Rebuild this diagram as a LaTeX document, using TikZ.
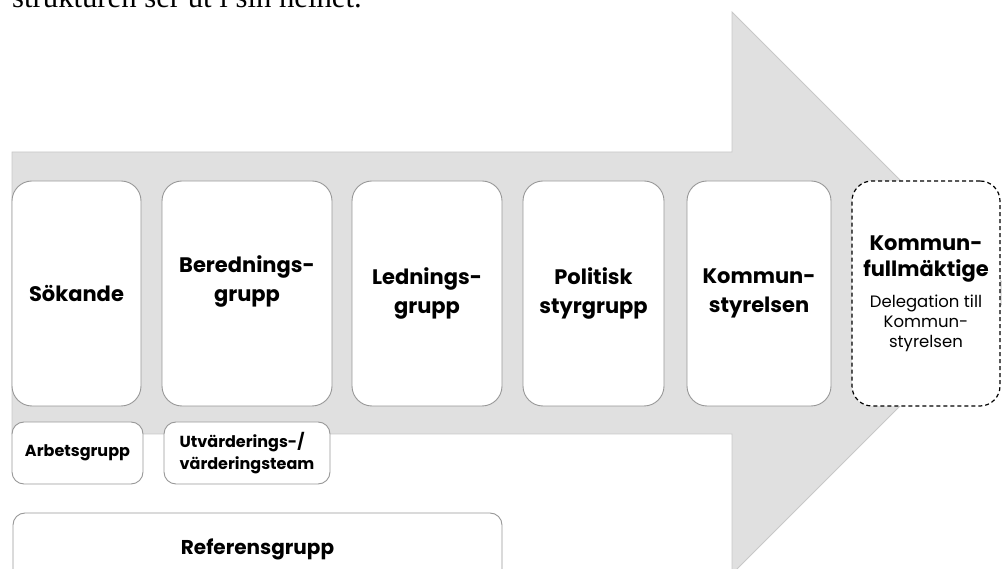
\documentclass[tikz,border=0pt]{standalone}
\usepackage{fontspec}
\setmainfont{Poppins}
\newfontfamily\bodyserif{Liberation Serif}
\usetikzlibrary{positioning}
\definecolor{flowfill}{HTML}{E0E0E0}
\definecolor{flowline}{HTML}{C8C8C8}
\definecolor{boxgray}{HTML}{989898}
\newcommand{\smalltxt}{\fontsize{16.5}{20}\selectfont\mdseries}
\tikzset{
    flow/.style = {draw=flowline, fill=flowfill, line width=0.8pt},
    stage/.style = {draw=boxgray, fill=white, rectangle, rounded corners=20pt, line width=0.9pt, outer sep=0pt,
        minimum height=225pt, align=center, font=\fontsize{21}{29}\selectfont\bfseries},
    final/.style = {stage, draw=black, line width=1.2pt, dash pattern=on 4pt off 3pt},
    sidebox/.style = {draw=boxgray, fill=white, rectangle, rounded corners=12pt, line width=0.9pt, outer sep=0pt,
        minimum height=62pt, font=\fontsize{16}{22}\selectfont\bfseries},
}

\begin{document}
\begin{tikzpicture}[x=1pt, y=1pt]
\useasboundingbox (0,0) rectangle (1002,568);
\clip (0,0) rectangle (1002,568);

% Text cut off at the top
\node[anchor=base west, inner sep=0pt, font=\bodyserif\fontsize{30.7}{36}\selectfont] (intro) at (12,560) {strukturen ser ut i sin helhet.};

% Big arrow in the background
\draw[flow] (12,416) -- (732,416) -- (732,556) -- (1013,275) -- (732,-6) -- (732,134) -- (12,134) -- cycle;

% Main chain
\node[stage, minimum width=129pt, anchor=west] (sokande) at (12,274.5) {Sökande};
\node[stage, right=21pt of sokande, minimum width=170pt] (beredning) {Berednings-\\grupp\\~};
\node[stage, right=20pt of beredning, minimum width=150pt] (ledning) {Lednings-\\grupp};
\node[stage, right=21pt of ledning, minimum width=141pt] (politisk) {Politisk\\styrgrupp};
\node[stage, right=23pt of politisk, minimum width=144pt] (ks) {Kommun-\\styrelsen};
\node[final, right=21pt of ks, minimum width=148pt, font=\fontsize{21}{20}\selectfont\bfseries] (kf)
    {Kommun-\\[6pt]fullmäktige\\[11pt]\smalltxt Delegation till\\\smalltxt Kommun-\\\smalltxt styrelsen};

% Groups below the chain
\node[sidebox, minimum width=131pt, below right=16pt and 0pt of sokande.south west] (arbetsgrupp) {Arbetsgrupp};
\node[sidebox, minimum width=166pt, right=21pt of arbetsgrupp, align=left] (vardering) {Utvärderings-/\\värderingsteam};
\node[sidebox, minimum width=489pt, minimum height=72pt, font=\fontsize{20}{24}\selectfont\bfseries,
    below right=29pt and 1pt of arbetsgrupp.south west] (referens) {Referensgrupp};

\end{tikzpicture}
\end{document}
